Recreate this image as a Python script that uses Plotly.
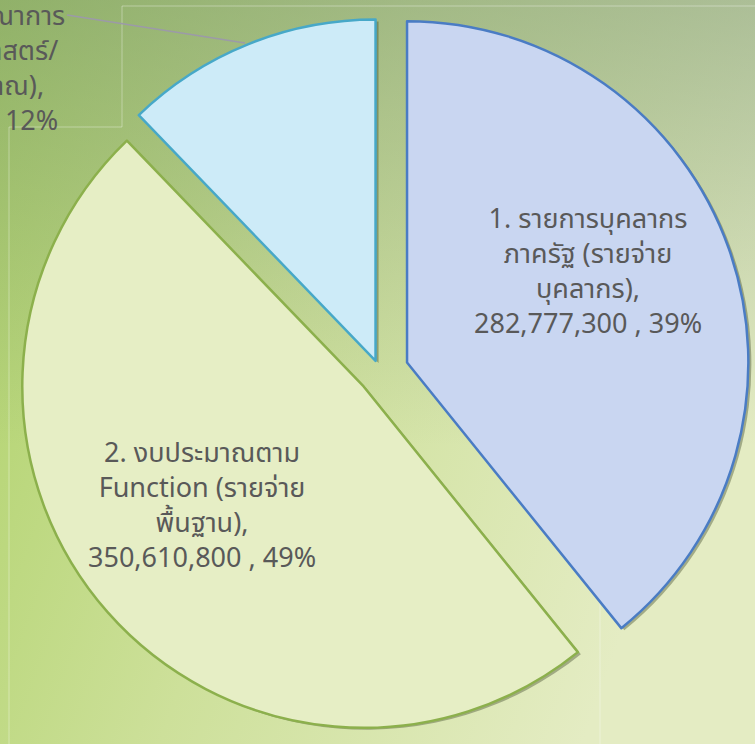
import base64
import plotly.graph_objects as go

# ---------------- data ----------------
categories = [
    "1. รายการบุคลากร<br>ภาครัฐ (รายจ่าย<br>บุคลากร),",
    "2. งบประมาณตาม<br>Function (รายจ่าย<br>พื้นฐาน),",
    "3. งบประมาณบูรณาการ<br>(รายจ่ายยุทธศาสตร์/<br>บูรณาการ งบประมาณ),",
]
values = [282777300, 350610800, 88000000]
pulls = [0.084, 0.064, 0.035]

fill_colors = ["#c9d6f1", "#e6eec5", "#cdebf8"]
line_colors = ["#4a7cc4", "#8cb04c", "#47a8c8"]
shadow_color = "rgba(55,65,35,0.38)"
text_color = "#595959"
FONT = "Noto Sans Thai, Leelawadee UI, Tahoma, Noto Sans, sans-serif"
FONT_SIZE = 27

W, H = 755, 744
total = sum(values)
pcts = [round(v / total * 100) for v in values]
labels = [f"{c}<br>{v:,} , {p}%" for c, v, p in zip(categories, values, pcts)]


def px(x):
    return x / W


def py(y):
    return 1 - y / H


# ---------------- background ----------------
svg = f'''<svg xmlns="http://www.w3.org/2000/svg" width="{W}" height="{H}" viewBox="0 0 {W} {H}" preserveAspectRatio="none">
<defs>
<linearGradient id="g1" x1="0" y1="0" x2="1" y2="0.35">
<stop offset="0" stop-color="#add167"/><stop offset="0.5" stop-color="#cde09a"/><stop offset="1" stop-color="#e4ecc3"/></linearGradient>
<linearGradient id="g2" x1="0" y1="0" x2="0" y2="1">
<stop offset="0" stop-color="#6e8a6c" stop-opacity="0.45"/><stop offset="0.6" stop-color="#6e8a6c" stop-opacity="0"/></linearGradient>
</defs>
<rect width="{W}" height="{H}" fill="url(#g1)"/>
<rect width="{W}" height="{H}" fill="url(#g2)"/>
</svg>'''
bg_uri = "data:image/svg+xml;base64," + base64.b64encode(svg.encode("utf-8")).decode("ascii")

fig = go.Figure()

# soft shadow pie
fig.add_trace(go.Pie(
    values=values, labels=categories, sort=False, direction="clockwise", rotation=0,
    pull=pulls, textinfo="none", hoverinfo="skip", showlegend=False,
    marker=dict(colors=[shadow_color] * 3, line=dict(width=0)),
    domain=dict(x=[px(13), px(753)], y=[py(744), py(4)]),
))

# main pie
fig.add_trace(go.Pie(
    values=values, labels=categories, sort=False, direction="clockwise", rotation=0,
    pull=pulls, textinfo="none", showlegend=False,
    marker=dict(colors=fill_colors, line=dict(color=line_colors, width=2.5)),
    domain=dict(x=[px(10), px(750)], y=[py(742), py(2)]),
))

label_font = dict(size=FONT_SIZE, color=text_color, family=FONT)
# label 3 is partly outside the picture on the left; lines are right-aligned with
# trailing no-break spaces so the visible line ends follow the centred layout
pads = [0, 1, 3, 1]
label3 = "<br>".join(line + "\u00a0" * n for line, n in zip(labels[2].split("<br>"), pads))

annotations = [
    dict(text=labels[0], x=px(588), y=py(272.5), xref="paper", yref="paper",
         showarrow=False, align="center", xanchor="center", yanchor="middle", font=label_font),
    dict(text=labels[1], x=px(202), y=py(506), xref="paper", yref="paper",
         showarrow=False, align="center", xanchor="center", yanchor="middle", font=label_font),
    dict(text=label3, x=px(67), y=py(69), xref="paper", yref="paper",
         showarrow=False, align="right", xanchor="right", yanchor="middle", font=label_font),
]

faint = dict(color="rgba(255,255,255,0.35)", width=1)
shapes = [
    dict(type="line", xref="paper", yref="paper", x0=px(67), y0=py(15), x1=px(245), y1=py(43),
         line=dict(color="#9c9aa8", width=1.5)),
    dict(type="line", xref="paper", yref="paper", x0=px(122), y0=py(6), x1=px(755), y1=py(6), line=faint, layer="below"),
    dict(type="line", xref="paper", yref="paper", x0=px(122), y0=py(6), x1=px(122), y1=py(127), line=faint, layer="below"),
    dict(type="line", xref="paper", yref="paper", x0=px(9), y0=py(127), x1=px(122), y1=py(127), line=faint, layer="below"),
    dict(type="line", xref="paper", yref="paper", x0=px(9), y0=py(127), x1=px(9), y1=py(744), line=faint, layer="below"),
    dict(type="line", xref="paper", yref="paper", x0=px(600), y0=py(560), x1=px(600), y1=py(744), line=faint, layer="below"),
]

fig.update_layout(
    width=W, height=H,
    margin=dict(l=0, r=0, t=0, b=0),
    paper_bgcolor="#c4d99a",
    plot_bgcolor="rgba(0,0,0,0)",
    images=[dict(source=bg_uri, xref="paper", yref="paper", x=0, y=1, sizex=1, sizey=1,
                 xanchor="left", yanchor="top", sizing="stretch", layer="below")],
    shapes=shapes,
    annotations=annotations,
)

fig.write_html(
    "out.html",
    config={"displayModeBar": False},
    post_script="document.body.style.margin='0';document.body.style.overflow='hidden';",
)
